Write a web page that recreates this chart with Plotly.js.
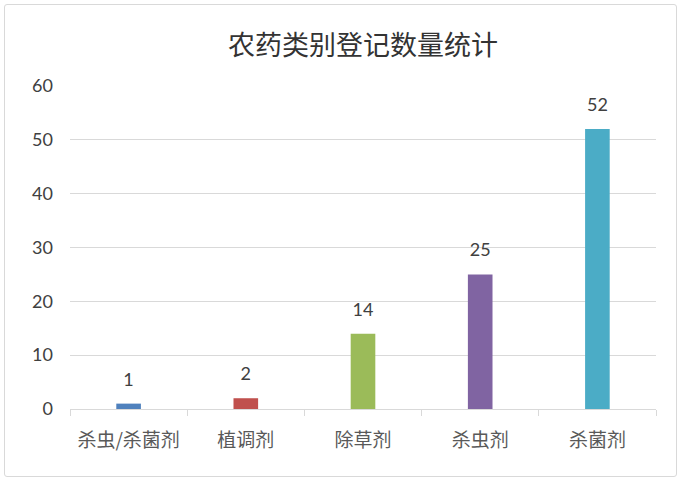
<!DOCTYPE html>
<html>
<head>
<meta charset="utf-8">
<script src="https://cdn.plot.ly/plotly-3.0.1.min.js"></script>
<style>
html,body{margin:0;padding:0;background:#fff;}
#wrap{position:absolute;left:4px;top:4px;width:673px;height:473px;border:1px solid #d9d9d9;border-radius:3px;box-sizing:border-box;}
#chart{position:absolute;left:0;top:0;width:682px;height:483px;}
</style>
</head>
<body>
<div id="wrap"></div>
<div id="chart"></div>
<script>
const categories = ["杀虫/杀菌剂", "植调剂", "除草剂", "杀虫剂", "杀菌剂"];
const values = [1, 2, 14, 25, 52];
const barColors = ["#4F81BD", "#C0504D", "#9BBB59", "#8064A2", "#4BACC6"];
const yTicks = [0, 10, 20, 30, 40, 50, 60];

const bars = {
  type: "bar",
  x: categories,
  y: values,
  marker: {color: barColors},
  hoverinfo: "none"
};

const labels = {
  type: "scatter",
  mode: "markers+text",
  x: categories,
  y: values,
  text: values.map(String),
  textposition: "top center",
  textfont: {family: "Lato, 'Open Sans', sans-serif", size: 18, color: "#404040"},
  marker: {size: 20, opacity: 0},
  cliponaxis: false,
  hoverinfo: "none"
};

const layout = {
  width: 682,
  height: 483,
  paper_bgcolor: "rgba(0,0,0,0)",
  plot_bgcolor: "rgba(0,0,0,0)",
  margin: {l: 70, r: 26, t: 86, b: 74},
  bargap: 0.79,
  showlegend: false,
  title: {
    text: "农药类别登记数量统计",
    font: {family: "'Noto Sans CJK SC', sans-serif", size: 27, color: "#333333"},
    x: 0.5, xanchor: "center", xref: "paper",
    y: 0.905, yanchor: "middle", yref: "container"
  },
  xaxis: {
    type: "category",
    showline: true,
    linecolor: "#d9d9d9",
    linewidth: 1,
    ticks: "outside",
    tickson: "boundaries",
    ticklen: 6,
    tickcolor: "#d9d9d9",
    ticklabelstandoff: 14,
    tickfont: {family: "'Noto Sans CJK SC', sans-serif", size: 19, color: "#595959"},
    showgrid: false,
    fixedrange: true
  },
  yaxis: {
    range: [0, 60],
    tickvals: yTicks,
    ticktext: yTicks.map(String),
    showgrid: true,
    gridcolor: "#d9d9d9",
    gridwidth: 1,
    zeroline: false,
    showline: false,
    ticks: "",
    ticklabelstandoff: 16,
    tickfont: {family: "Lato, 'Open Sans', sans-serif", size: 18, color: "#404040"},
    fixedrange: true
  }
};

Plotly.newPlot("chart", [bars, labels], layout, {displayModeBar: false, staticPlot: true});
</script>
</body>
</html>
